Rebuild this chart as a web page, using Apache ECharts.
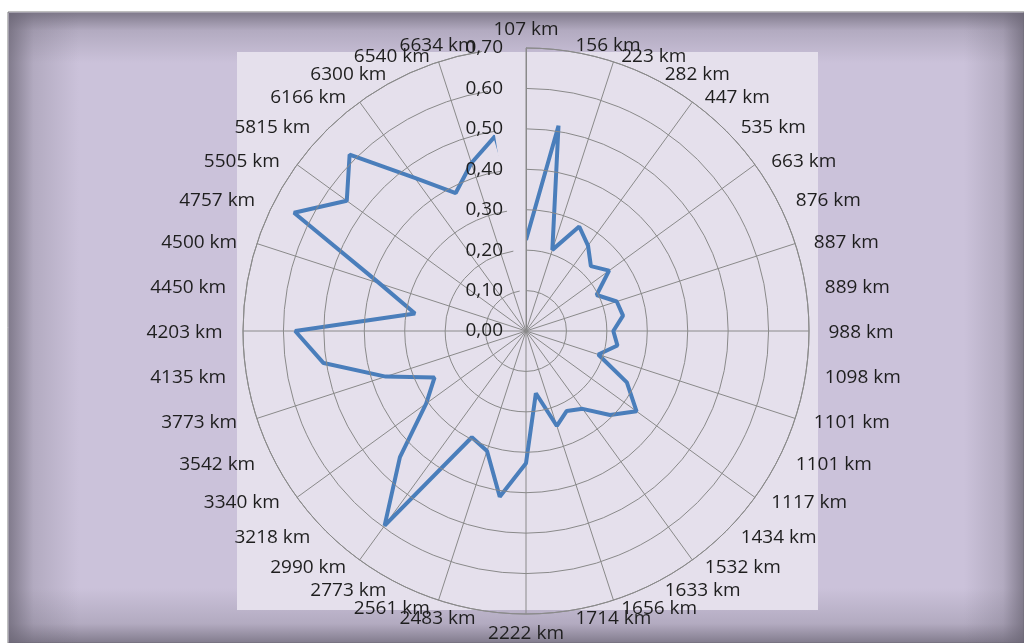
<!DOCTYPE html>
<html>
<head>
<meta charset="utf-8">
<script src="https://cdn.jsdelivr.net/npm/echarts@6/dist/echarts.min.js"></script>
<style>
html,body{margin:0;padding:0;background:#fff;}
#c{width:1024px;height:643px;}
</style>
</head>
<body>
<div id="c"></div>
<script>
const categories = ['107 km','156 km','223 km','282 km','447 km','535 km','663 km','876 km','887 km','889 km',
  '988 km','1098 km','1101 km','1101 km','1117 km','1434 km','1532 km','1633 km','1656 km','1714 km',
  '2222 km','2483 km','2561 km','2773 km','2990 km','3218 km','3340 km','3542 km','3773 km','4135 km',
  '4203 km','4450 km','4500 km','4757 km','5505 km','5815 km','6166 km','6300 km','6540 km','6634 km'];
const values = [0.225,0.514,0.211,0.290,0.261,0.227,0.254,0.196,0.236,0.243,
  0.216,0.229,0.188,0.280,0.338,0.294,0.238,0.222,0.247,0.156,
  0.327,0.415,0.312,0.295,0.595,0.441,0.305,0.254,0.365,0.507,
  0.571,0.278,0.381,0.644,0.548,0.617,0.468,0.383,0.437,0.488];
const radiusTickLabels = ['0,00','0,10','0,20','0,30','0,40','0,50','0,60','0,70'];
const radiusMax = 0.7;

const chart = echarts.init(document.getElementById('c'), null, {renderer:'canvas'});
const lineData = values.map((v,i)=>[v,i]);
lineData.push([values[0],0]);
const gridColor = '#8a8a8a';
const textStyle = {fontFamily:'Open Sans', fontSize:19, color:'#1e1e1e'};
const edge = 'rgba(105,100,115,0.75)';
const mid = 'rgba(105,100,115,0.25)';
const clear = 'rgba(105,100,115,0)';
function grad(x1,y1,x2,y2){
  return new echarts.graphic.LinearGradient(x1,y1,x2,y2,[{offset:0,color:edge},{offset:0.35,color:mid},{offset:1,color:clear}]);
}
// category labels placed Excel-style around the outer ring
const n = categories.length;
const labelData = categories.map((c,i)=>{
  const a = i*2*Math.PI/n, s = Math.sin(a), co = Math.cos(a);
  let label;
  if (i === 0) label = {position:[0.5,-8], align:'center', verticalAlign:'bottom'};
  else if (i === n/2) label = {position:[0.5,11], align:'center', verticalAlign:'top'};
  else {
    const gap = 3 + 17*Math.abs(s);
    label = {position:[s>0 ? gap : -gap, 2 - 7*co], align: s>0 ? 'left' : 'right', verticalAlign:'middle'};
  }
  return {value:[radiusMax, i], label:label};
});
chart.setOption({
  backgroundColor:'#ffffff',
  animation:false,
  graphic:[
    {type:'rect', z:-20, silent:true, shape:{x:8,y:12,width:1016,height:631}, style:{fill:'#cbc2da', stroke:'#7f7f7f', lineWidth:1}},
    {type:'rect', z:-19, silent:true, shape:{x:9,y:13,width:1015,height:50}, style:{fill:grad(0,0,0,1)}},
    {type:'rect', z:-19, silent:true, shape:{x:9,y:588,width:1015,height:55}, style:{fill:grad(0,1,0,0)}},
    {type:'rect', z:-19, silent:true, shape:{x:9,y:13,width:70,height:630}, style:{fill:grad(0,0,1,0)}},
    {type:'rect', z:-19, silent:true, shape:{x:964,y:13,width:60,height:630}, style:{fill:grad(1,0,0,0)}},
    {type:'rect', z:-18, silent:true, shape:{x:237,y:52,width:581,height:558}, style:{fill:'#e5e0ec'}}
  ],
  polar:{center:[526,331], radius:283},
  angleAxis:{
    type:'category', data:categories, startAngle:90, clockwise:true, boundaryGap:false,
    axisTick:{show:false},
    axisLine:{show:true, lineStyle:{color:gridColor, width:1}},
    splitLine:{show:true, interval:0, lineStyle:{color:gridColor, width:1}},
    axisLabel:{show:false}
  },
  radiusAxis:{
    type:'value', min:0, max:radiusMax, interval:0.1,
    axisTick:{show:false},
    axisLine:{show:true, lineStyle:{color:gridColor, width:1}},
    splitLine:{show:true, lineStyle:{color:gridColor, width:1}},
    axisLabel:Object.assign({margin:23, formatter:(v)=>radiusTickLabels[Math.round(v*10)]}, textStyle),
    z:3
  },
  series:[{
    type:'line', coordinateSystem:'polar', data:lineData, showSymbol:false, symbol:'none',
    lineStyle:{color:'#4a7ebb', width:4}, z:2, silent:true
  },{
    type:'scatter', coordinateSystem:'polar', data:labelData, symbol:'circle', symbolSize:1, silent:true, z:4,
    itemStyle:{color:'rgba(0,0,0,0)'},
    label:Object.assign({show:true, opacity:1, formatter:(p)=>categories[p.dataIndex]}, textStyle),
    labelLayout:{hideOverlap:false}
  }]
});
</script>
</body>
</html>
